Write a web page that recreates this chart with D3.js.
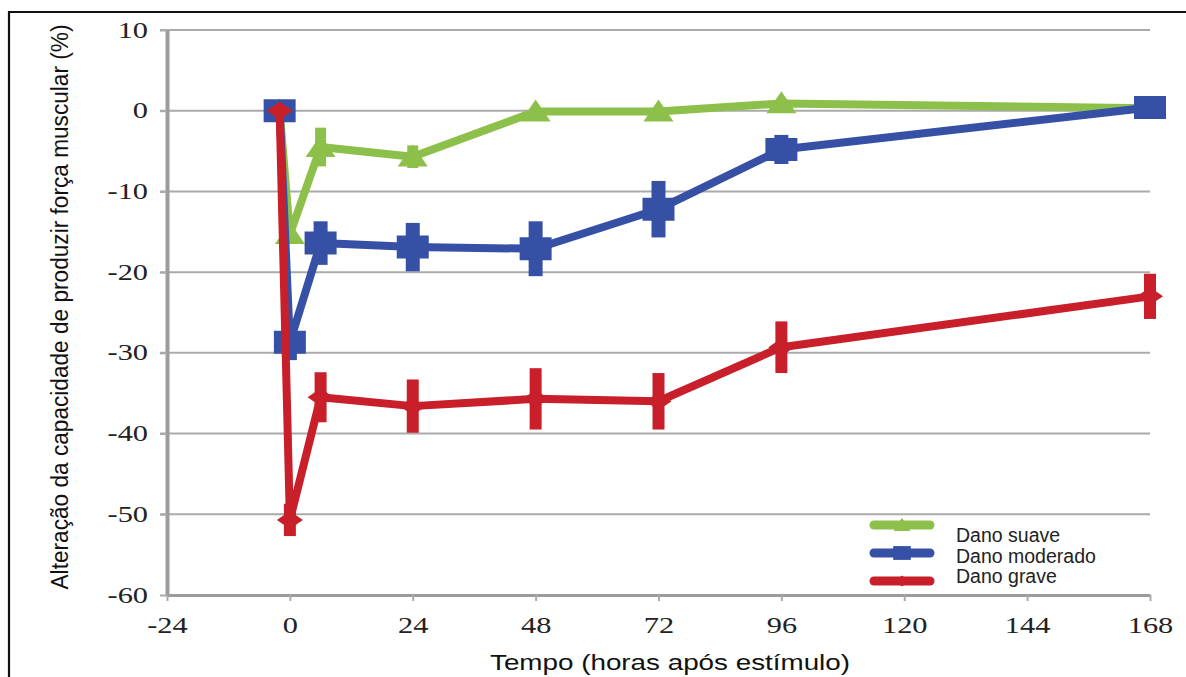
<!DOCTYPE html>
<html>
<head>
<meta charset="utf-8">
<script src="https://cdn.jsdelivr.net/npm/d3@7"></script>
<style>
  html, body { margin: 0; padding: 0; background: #fff; }
  svg { display: block; }
</style>
</head>
<body>
<svg id="chart" width="1186" height="677"></svg>
<script>
// Time points (hours after stimulus); the first one is the pre-exercise baseline
const hours = [-2, 0, 6, 24, 48, 72, 96, 168];

// Change in force-producing capacity (%) per damage level, with error bar half-widths
const suave       = [0, -15.3, -4.5, -5.7, -0.1, -0.1, 0.9, 0.3];
const suaveErr    = [0, 0, 2.4, 1.4, 0, 0, 0.5, 0];
const moderado    = [0, -28.7, -16.4, -16.9, -17.1, -12.2, -4.8, 0.4];
const moderadoErr = [0, 2.2, 2.7, 3.0, 3.4, 3.5, 1.8, 0];
const grave       = [0, -50.7, -35.5, -36.6, -35.7, -36.0, -29.3, -23.0];
const graveErr    = [0, 2.0, 3.1, 3.3, 3.8, 3.5, 3.2, 2.8];

const xTicks = [-24, 0, 24, 48, 72, 96, 120, 144, 168];
const yTicks = [10, 0, -10, -20, -30, -40, -50, -60];
const seriesNames = ["Dano suave", "Dano moderado", "Dano grave"];

const svg = d3.select("#chart");

const x = d3.scaleLinear().domain([-24, 168]).range([167, 1150]);
const y = d3.scaleLinear().domain([-60, 10]).range([595, 30]);

// plain hyphen for negative tick labels
const plain = d => String(d);

// outer frame (top and left edges visible)
svg.append("path")
  .attr("d", "M9,700 L9,12 L1190,12")
  .attr("fill", "none").attr("stroke", "#111").attr("stroke-width", 2.2);

// horizontal gridlines
svg.append("g").selectAll("line")
  .data(yTicks.filter(v => v > -60))
  .join("line")
  .attr("x1", 160).attr("x2", 1150)
  .attr("y1", d => y(d)).attr("y2", d => y(d))
  .attr("stroke", "#aaaaaa").attr("stroke-width", 2);

// y axis
const yAxis = svg.append("g")
  .attr("transform", "translate(167,0)")
  .call(d3.axisLeft(y).tickValues(yTicks).tickSize(7).tickSizeOuter(0).tickFormat(plain));
yAxis.select(".domain").attr("stroke", "#9c9c9c").attr("stroke-width", 4);
yAxis.selectAll(".tick line").attr("stroke", "#aaaaaa").attr("stroke-width", 2);
yAxis.selectAll(".tick text")
  .attr("x", null).attr("dy", null)
  .attr("transform", "translate(-19,7) scale(1.35,1)")
  .attr("text-anchor", "end")
  .attr("font-family", "'Liberation Serif', 'Times New Roman', serif")
  .attr("font-size", 22.5).attr("fill", "#222");

// x axis
const xAxis = svg.append("g")
  .attr("transform", "translate(0,595)")
  .call(d3.axisBottom(x).tickValues(xTicks).tickSize(6).tickSizeOuter(0).tickFormat(plain));
xAxis.select(".domain").attr("stroke", "#9c9c9c").attr("stroke-width", 3);
xAxis.selectAll(".tick line").attr("stroke", "#aaaaaa").attr("stroke-width", 2);
xAxis.selectAll(".tick text")
  .attr("y", null).attr("dy", null)
  .attr("transform", "translate(0,38) scale(1.35,1)")
  .attr("text-anchor", "middle")
  .attr("font-family", "'Liberation Serif', 'Times New Roman', serif")
  .attr("font-size", 22.5).attr("fill", "#222");

// axis titles
svg.append("text")
  .attr("transform", "translate(68,307) rotate(-90)")
  .attr("text-anchor", "middle")
  .attr("font-family", "'Liberation Sans', Arial, sans-serif")
  .attr("font-size", 23)
  .attr("textLength", 565).attr("lengthAdjust", "spacingAndGlyphs")
  .attr("fill", "#111")
  .text("Alteração da capacidade de produzir força muscular (%)");

svg.append("text")
  .attr("x", 670).attr("y", 670)
  .attr("text-anchor", "middle")
  .attr("font-family", "'Liberation Sans', Arial, sans-serif")
  .attr("font-size", 22)
  .attr("textLength", 360).attr("lengthAdjust", "spacingAndGlyphs")
  .attr("fill", "#111")
  .text("Tempo (horas após estímulo)");

// marker shapes (centred at 0,0)
const markers = {
  triangle: (w, h) => `M0,${-h * 0.55} L${w / 2},${h * 0.45} L${-w / 2},${h * 0.45} Z`,
  square:   (w, h) => `M${-w / 2},${-h / 2} H${w / 2} V${h / 2} H${-w / 2} Z`,
  diamond:  (w, h) => `M0,${-h / 2} L${w / 2},0 L0,${h / 2} L${-w / 2},0 Z`
};

const series = [
  { name: seriesNames[0], vals: suave,    err: suaveErr,    color: "#8cc04b", shape: "triangle", mw: 30, mh: 22, ew: 11 },
  { name: seriesNames[1], vals: moderado, err: moderadoErr, color: "#3650a6", shape: "square",   mw: 32, mh: 23, ew: 14 },
  { name: seriesNames[2], vals: grave,    err: graveErr,    color: "#c81f2a", shape: "diamond",  mw: 26, mh: 18, ew: 12 }
];

const line = d3.line().x(d => x(d.h)).y(d => y(d.v));

series.forEach(s => {
  const pts = hours.map((h, i) => ({ h, v: s.vals[i], e: s.err[i] }));
  const g = svg.append("g");
  g.append("path")
    .datum(pts)
    .attr("d", line)
    .attr("fill", "none")
    .attr("stroke", s.color)
    .attr("stroke-width", 8)
    .attr("stroke-linejoin", "round");
  g.selectAll("line.err")
    .data(pts.filter(p => p.e > 0))
    .join("line")
    .attr("class", "err")
    .attr("x1", p => x(p.h)).attr("x2", p => x(p.h))
    .attr("y1", p => y(p.v + p.e)).attr("y2", p => y(p.v - p.e))
    .attr("stroke", s.color).attr("stroke-width", s.ew);
  g.selectAll("path.mk")
    .data(pts)
    .join("path")
    .attr("class", "mk")
    .attr("transform", p => `translate(${x(p.h)},${y(p.v)})`)
    .attr("d", markers[s.shape](s.mw, s.mh))
    .attr("fill", s.color);
});

// legend
const legendRows = [
  { lineY: 525, textY: 542 },
  { lineY: 553, textY: 563 },
  { lineY: 581, textY: 583 }
];
const legend = svg.append("g");
series.forEach((s, i) => {
  const r = legendRows[i];
  legend.append("line")
    .attr("x1", 874).attr("x2", 930)
    .attr("y1", r.lineY).attr("y2", r.lineY)
    .attr("stroke", s.color).attr("stroke-width", 9)
    .attr("stroke-linecap", "round");
  legend.append("path")
    .attr("transform", `translate(902,${r.lineY})`)
    .attr("d", markers[s.shape](s.mw * 0.55, s.mh * 0.6))
    .attr("fill", s.color);
  legend.append("text")
    .attr("x", 956).attr("y", r.textY)
    .attr("font-family", "'Liberation Sans', Arial, sans-serif")
    .attr("font-size", 19.5)
    .attr("fill", "#222")
    .text(s.name);
});
</script>
</body>
</html>
